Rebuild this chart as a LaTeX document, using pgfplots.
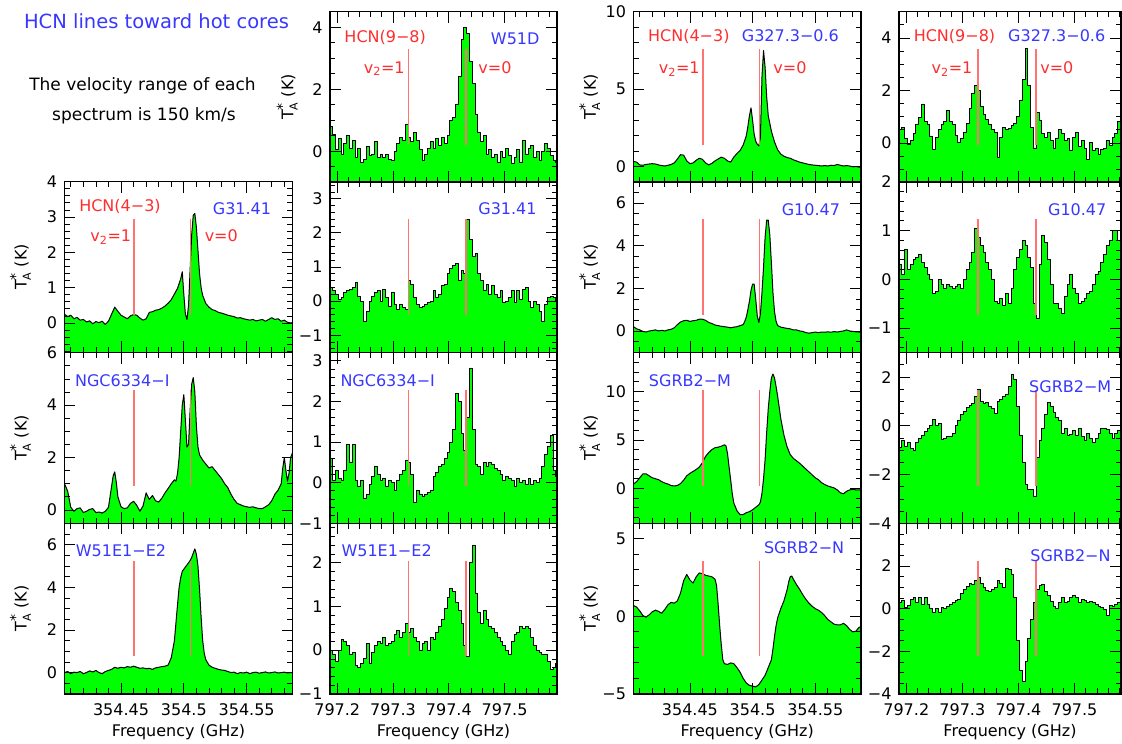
\documentclass[border=0pt]{standalone}
\usepackage{fontspec}
\setmainfont{DejaVu Sans}
\usepackage{pgfplots}
\pgfplotsset{compat=1.18}
\usepackage{pgfplotstable}
\usepgfplotslibrary{fillbetween}
\definecolor{specgreen}{RGB}{0,255,0}
\definecolor{lblue}{RGB}{55,55,255}
\definecolor{lred}{RGB}{255,45,45}
\definecolor{linered}{RGB}{255,115,115}
\newcommand\tf{\fontsize{16}{18}\selectfont}
\newcommand\TA{T$_{\mbox{\fontsize{11}{11}\selectfont A}}^{\mbox{\fontsize{14}{14}\selectfont *}}$ (K)}
\newcommand\vtwo{v\textsubscript{2}=1}

% ---------- HCN(4-3), 354 GHz ----------
\pgfplotstableread{
f T
354.4050 0.25
354.4075 0.18
354.4100 0.22
354.4125 0.12
354.4150 0.16
354.4175 0.08
354.4200 0.10
354.4225 0.03
354.4250 0.06
354.4275 -0.02
354.4300 0.04
354.4325 0.01
354.4350 0.05
354.4375 -0.04
354.4400 0.05
354.4425 0.25
354.4450 0.45
354.4475 0.33
354.4500 0.22
354.4525 0.17
354.4550 0.12
354.4575 0.20
354.4600 0.24
354.4625 0.22
354.4650 0.14
354.4675 0.08
354.4700 0.12
354.4725 0.30
354.4750 0.32
354.4775 0.36
354.4800 0.38
354.4825 0.42
354.4850 0.48
354.4875 0.56
354.4900 0.66
354.4925 0.82
354.4950 0.98
354.4975 1.25
354.49875 1.45
354.5000 0.8
354.50125 0.25
354.5025 0.1
354.50375 0.5
354.5050 1.5
354.50625 2.5
354.5075 3.05
354.50875 3.1
354.5100 2.7
354.51125 2.05
354.5125 1.4
354.51375 1.0
354.5150 0.78
354.5175 0.55
354.5200 0.45
354.5225 0.38
354.5250 0.35
354.5275 0.3
354.5300 0.28
354.5325 0.25
354.5350 0.22
354.5375 0.2
354.5400 0.18
354.5425 0.14
354.5450 0.15
354.5475 0.12
354.5500 0.1
354.5525 0.08
354.5550 0.1
354.5575 0.06
354.5600 0.08
354.5625 0.1
354.5650 0.05
354.5675 0.1
354.5700 0.15
354.5725 0.1
354.5750 0.12
354.5775 0.05
354.5800 0.08
354.5825 0.02
354.5850 0.0
354.5875 0.02
}\cAb
\pgfplotstableread{
f T
354.4050 1.0
354.4075 0.72
354.4100 0.1
354.4125 -0.05
354.4150 0.05
354.4175 0.08
354.4200 -0.1
354.4225 -0.05
354.4250 0.02
354.4275 0.05
354.4300 -0.1
354.4325 -0.08
354.4350 -0.12
354.4375 -0.05
354.4400 0.1
354.44125 0.5
354.4425 0.9
354.44375 1.3
354.4450 1.45
354.44625 1.05
354.4475 0.5
354.4500 0.12
354.4525 0.05
354.4550 0.08
354.4575 0.25
354.4600 0.33
354.4625 0.18
354.4650 -0.05
354.4675 0.15
354.4700 0.65
354.4725 0.4
354.4750 0.55
354.4775 0.35
354.4800 0.3
354.4825 0.45
354.4850 0.65
354.4875 0.82
354.4900 1.0
354.4925 1.15
354.49375 1.1
354.4950 1.4
354.49625 2.0
354.4975 3.0
354.49875 4.0
354.5000 4.4
354.50125 3.4
354.5025 2.4
354.50375 2.5
354.5050 3.8
354.50625 4.8
354.5075 5.05
354.50875 4.5
354.5100 3.2
354.51125 2.4
354.5125 2.1
354.5150 1.9
354.5175 1.75
354.5200 1.6
354.5225 1.65
354.5250 1.5
354.5275 1.35
354.5300 1.2
354.5325 1.0
354.5350 0.85
354.5375 0.6
354.5400 0.4
354.5425 0.25
354.5450 0.2
354.5475 0.15
354.5500 0.12
354.5525 0.1
354.5550 0.12
354.5575 0.08
354.5600 0.05
354.5625 0.05
354.5650 0.12
354.5675 0.2
354.5700 0.35
354.5725 0.6
354.5750 0.75
354.5775 1.0
354.57875 1.6
354.5800 2.0
354.58125 1.5
354.5825 1.1
354.58375 1.4
354.5850 2.0
354.5875 2.3
}\cAc
\pgfplotstableread{
f T
354.4050 0.0
354.4075 0.05
354.4100 -0.05
354.4125 0.02
354.4150 0.0
354.4175 0.05
354.4200 -0.05
354.4225 0.0
354.4250 0.08
354.4275 0.03
354.4300 0.1
354.4325 0.0
354.4350 -0.05
354.4375 0.05
354.4400 0.1
354.4425 0.15
354.4450 0.25
354.4475 0.2
354.4500 0.25
354.4525 0.22
354.4550 0.28
354.4575 0.25
354.4600 0.3
354.4625 0.25
354.4650 0.2
354.4675 0.22
354.4700 0.18
354.4725 0.2
354.4750 0.15
354.4775 0.22
354.4800 0.25
354.4825 0.28
354.4850 0.3
354.4875 0.35
354.4900 0.7
354.4925 1.5
354.4950 3.2
354.49625 4.0
354.4975 4.45
354.49875 4.75
354.5000 4.85
354.50125 4.95
354.5025 5.05
354.50375 5.15
354.5050 5.25
354.50625 5.4
354.5075 5.6
354.50875 5.8
354.5100 5.55
354.51125 5.0
354.5125 3.9
354.51375 2.6
354.5150 1.5
354.51625 0.9
354.5175 0.6
354.5200 0.35
354.5225 0.25
354.5250 0.2
354.5275 0.15
354.5300 0.12
354.5325 0.1
354.5350 0.05
354.5375 0.0
354.5400 0.02
354.5425 -0.05
354.5450 0.0
354.5475 -0.02
354.5500 0.02
354.5525 -0.05
354.5550 0.0
354.5575 0.02
354.5600 -0.03
354.5625 0.0
354.5650 0.03
354.5675 -0.02
354.5700 0.0
354.5725 0.03
354.5750 -0.02
354.5775 0.0
354.5800 0.02
354.5825 -0.02
354.5850 0.0
354.5875 0.0
}\cAd
\pgfplotstableread{
f T
354.4050 0.35
354.4075 0.3
354.4100 0.12
354.4125 0.1
354.4150 0.15
354.4175 0.18
354.4200 0.2
354.4225 0.18
354.4250 0.12
354.4275 0.08
354.4300 0.05
354.4325 0.1
354.4350 0.15
354.4375 0.25
354.4400 0.5
354.4425 0.78
354.4450 0.75
354.4475 0.38
354.4500 0.2
354.4525 0.25
354.4550 0.42
354.4575 0.55
354.4600 0.48
354.4625 0.25
354.4650 0.12
354.4675 0.22
354.4700 0.38
354.4725 0.5
354.4750 0.62
354.4775 0.55
354.4800 0.38
354.4825 0.3
354.4850 0.62
354.4875 0.85
354.4900 1.05
354.4925 1.4
354.4950 2.0
354.49625 2.6
354.4975 3.3
354.49875 3.8
354.5000 3.0
354.50125 2.1
354.5025 1.65
354.50375 1.45
354.5050 1.35
354.50625 1.9
354.5075 5.8
354.50875 7.5
354.5100 6.4
354.51125 4.5
354.5125 3.3
354.5150 2.3
354.5175 1.6
354.5200 1.1
354.5225 0.82
354.5250 0.68
354.5275 0.6
354.5300 0.55
354.5325 0.45
354.5350 0.38
354.5375 0.3
354.5400 0.25
354.5425 0.2
354.5450 0.15
354.5475 0.12
354.5500 0.1
354.5525 0.08
354.5550 0.05
354.5575 0.08
354.5600 0.05
354.5625 0.1
354.5650 0.08
354.5675 0.15
354.5700 0.1
354.5725 0.05
354.5750 0.08
354.5775 0.05
354.5800 0.0
354.5825 0.02
354.5850 -0.02
354.5875 0.0
}\cCa
\pgfplotstableread{
f T
354.4050 0.2
354.4075 0.1
354.4100 0.05
354.4125 -0.02
354.4150 -0.05
354.4175 0.0
354.4200 0.02
354.4225 0.05
354.4250 0.0
354.4275 0.03
354.4300 0.0
354.4325 0.05
354.4350 0.08
354.4375 0.15
354.4400 0.3
354.4425 0.42
354.4450 0.48
354.4475 0.5
354.4500 0.45
354.4525 0.48
354.4550 0.5
354.4575 0.55
354.4600 0.55
354.4625 0.5
354.4650 0.4
354.4675 0.35
354.4700 0.28
354.4725 0.25
354.4750 0.22
354.4775 0.2
354.4800 0.18
354.4825 0.15
354.4850 0.18
354.4875 0.2
354.4900 0.25
354.4925 0.3
354.49375 0.45
354.4950 0.65
354.49625 1.0
354.4975 1.4
354.49875 1.9
354.5000 2.2
354.50125 2.2
354.5025 1.5
354.50375 0.7
354.5050 0.4
354.50625 0.8
354.5075 1.8
354.50875 3.0
354.5100 4.4
354.51125 5.2
354.5125 5.2
354.51375 4.5
354.5150 3.2
354.51625 1.8
354.5175 0.9
354.51875 0.45
354.5200 0.25
354.5225 0.18
354.5250 0.15
354.5275 0.12
354.5300 0.1
354.5325 0.05
354.5350 0.05
354.5375 0.0
354.5400 -0.02
354.5425 -0.08
354.5450 -0.1
354.5475 -0.08
354.5500 -0.05
354.5525 -0.08
354.5550 -0.05
354.5575 -0.06
354.5600 -0.04
354.5625 -0.06
354.5650 -0.03
354.5675 -0.05
354.5700 -0.02
354.5725 0.0
354.5750 0.05
354.5775 0.0
354.5800 -0.02
354.5825 -0.04
354.5850 -0.05
354.5875 -0.05
}\cCb
\pgfplotstableread{
f T
354.4050 0.45
354.4075 0.7
354.4100 1.1
354.4125 1.5
354.4150 1.5
354.4175 1.3
354.4200 1.1
354.4225 1.0
354.4250 0.9
354.4275 0.7
354.4300 0.55
354.4325 0.45
354.4350 0.3
354.4375 0.25
354.4400 0.3
354.4425 0.5
354.4450 0.85
354.4475 1.3
354.4500 1.55
354.4525 1.75
354.4550 1.95
354.4575 2.2
354.4600 2.65
354.4625 3.3
354.4650 3.7
354.4675 4.0
354.4700 4.2
354.4725 4.25
354.4750 4.35
354.4775 4.5
354.47875 4.4
354.4800 3.6
354.48125 2.2
354.4825 0.9
354.48375 -0.5
354.4850 -1.5
354.4875 -2.3
354.4900 -2.7
354.4925 -2.7
354.4950 -2.5
354.4975 -2.4
354.5000 -2.2
354.5025 -1.95
354.5050 -1.7
354.50625 -1.4
354.5075 -0.5
354.50875 1.0
354.5100 3.0
354.51125 5.8
354.5125 8.2
354.51375 10.0
354.5150 11.4
354.51625 11.8
354.5175 11.4
354.51875 10.5
354.5200 9.5
354.5225 7.2
354.5250 5.5
354.5275 4.3
354.5300 3.5
354.5325 3.1
354.5350 2.85
354.5375 2.6
354.5400 2.3
354.5425 2.0
354.5450 1.7
354.5475 1.4
354.5500 1.1
354.5525 0.9
354.5550 0.6
354.5575 0.4
354.5600 0.25
354.5625 0.15
354.5650 0.05
354.5675 -0.15
354.5700 -0.45
354.5725 -0.55
354.5750 -0.3
354.5775 -0.15
354.5800 -0.1
354.5825 -0.15
354.5850 -0.15
354.5875 -0.15
}\cCc
\pgfplotstableread{
f T
354.4050 0.7
354.4075 0.6
354.4100 0.35
354.4125 0.05
354.4150 -0.05
354.4175 0.1
354.4200 0.3
354.4225 0.4
354.4250 0.32
354.4275 0.2
354.4300 0.45
354.4325 0.75
354.4350 0.9
354.4375 0.85
354.4400 1.0
354.4425 1.5
354.4450 2.3
354.4475 2.7
354.4500 2.35
354.4525 2.15
354.4550 2.55
354.4575 2.8
354.4600 2.75
354.4625 2.65
354.4650 2.6
354.4675 2.55
354.4700 2.4
354.47125 2.0
354.4725 0.8
354.47375 -0.6
354.4750 -1.8
354.47625 -2.8
354.4775 -3.05
354.4800 -3.1
354.4825 -3.0
354.4850 -3.05
354.4875 -3.3
354.4900 -3.6
354.4925 -4.0
354.4950 -4.3
354.4975 -4.45
354.5000 -4.5
354.5025 -4.55
354.5050 -4.4
354.5075 -4.1
354.5100 -3.8
354.5125 -3.3
354.5150 -2.8
354.51625 -2.1
354.5175 -1.3
354.51875 -0.6
354.5200 -0.1
354.5225 0.5
354.5250 1.0
354.5275 1.7
354.52875 2.2
354.5300 2.55
354.53125 2.6
354.5325 2.4
354.5350 2.05
354.5375 1.75
354.5400 1.4
354.5425 1.1
354.5450 0.85
354.5475 0.65
354.5500 0.5
354.5525 0.4
354.5550 0.25
354.5575 0.05
354.5600 -0.2
354.5625 -0.35
354.5650 -0.5
354.5675 -0.55
354.5700 -0.55
354.5725 -0.45
354.5750 -0.6
354.5775 -0.85
354.5800 -1.0
354.5825 -0.95
354.5850 -0.7
354.5875 -0.7
}\cCd

% ---------- HCN(9-8), 797 GHz ----------
\pgfplotstableread{
f T
797.187 0.8
797.192 0.55
797.197 0.05
797.202 0.4
797.207 -0.1
797.212 0.25
797.217 0.5
797.222 0.1
797.227 0.35
797.232 -0.2
797.237 0.1
797.242 -0.35
797.247 -0.25
797.252 0.15
797.257 -0.15
797.262 -0.1
797.267 0.3
797.272 -0.2
797.277 -0.1
797.282 -0.2
797.287 -0.1
797.292 -0.25
797.297 -0.3
797.302 0.0
797.307 0.25
797.312 0.45
797.317 0.35
797.322 0.85
797.327 0.45
797.332 0.3
797.337 0.6
797.342 0.35
797.347 0.05
797.352 -0.3
797.357 -0.1
797.362 0.1
797.367 0.3
797.372 0.1
797.377 0.4
797.382 0.2
797.387 0.45
797.392 0.25
797.397 0.5
797.402 1.0
797.407 1.1
797.412 1.5
797.417 2.4
797.422 3.6
797.427 4.0
797.432 3.8
797.437 2.9
797.442 2.2
797.447 1.2
797.452 0.6
797.457 0.3
797.462 0.5
797.467 -0.1
797.472 0.05
797.477 -0.2
797.482 -0.1
797.487 -0.35
797.492 0.0
797.497 -0.2
797.502 0.1
797.507 -0.15
797.512 -0.4
797.517 -0.2
797.522 0.05
797.527 -0.35
797.532 0.35
797.537 -0.1
797.542 0.1
797.547 0.2
797.552 -0.2
797.557 0.0
797.562 -0.3
797.567 0.0
797.572 0.25
797.577 0.1
797.582 -0.15
797.587 -0.3
797.592 -0.35
797.597 -0.3
}\cBa
\pgfplotstableread{
f T
797.187 0.4
797.192 0.3
797.197 0.2
797.202 0.05
797.207 0.1
797.212 0.25
797.217 0.3
797.222 0.35
797.227 0.4
797.232 0.55
797.237 0.15
797.242 0.0
797.247 -0.6
797.252 -0.3
797.257 0.0
797.262 0.15
797.267 0.25
797.272 0.3
797.277 0.0
797.282 0.35
797.287 0.1
797.292 -0.15
797.297 0.25
797.302 -0.1
797.307 -0.25
797.312 -0.1
797.317 -0.2
797.322 -0.25
797.327 0.6
797.332 0.5
797.337 0.1
797.342 -0.1
797.347 -0.2
797.352 -0.15
797.357 -0.1
797.362 -0.05
797.367 0.0
797.372 0.3
797.377 0.1
797.382 0.2
797.387 0.45
797.392 0.5
797.397 0.8
797.402 0.95
797.407 1.05
797.412 1.1
797.417 0.6
797.422 0.9
797.427 0.8
797.432 2.4
797.437 1.8
797.442 1.3
797.447 1.4
797.452 0.8
797.457 0.6
797.462 0.3
797.467 0.5
797.472 0.2
797.477 0.45
797.482 0.2
797.487 0.1
797.492 0.3
797.497 -0.05
797.502 0.0
797.507 0.1
797.512 0.3
797.517 -0.05
797.522 0.3
797.527 0.05
797.532 0.35
797.537 0.4
797.542 0.0
797.547 -0.2
797.552 0.0
797.557 -0.1
797.562 -0.3
797.567 -0.6
797.572 -0.1
797.577 0.1
797.582 0.15
797.587 0.1
797.592 0.0
797.597 0.0
}\cBb
\pgfplotstableread{
f T
797.187 0.6
797.192 0.05
797.197 0.3
797.202 0.1
797.207 0.05
797.212 0.3
797.217 0.95
797.222 0.5
797.227 0.95
797.232 0.05
797.237 -0.1
797.242 0.05
797.247 -0.4
797.252 -0.3
797.257 -0.05
797.262 0.15
797.267 0.4
797.272 0.2
797.277 0.05
797.282 0.1
797.287 -0.1
797.292 0.05
797.297 0.0
797.302 -0.2
797.307 0.05
797.312 0.2
797.317 0.3
797.322 0.55
797.327 0.5
797.332 0.2
797.337 -0.5
797.342 -0.2
797.347 -0.3
797.352 -0.35
797.357 -0.3
797.362 -0.25
797.367 -0.2
797.372 0.15
797.377 0.25
797.382 0.4
797.387 0.45
797.392 0.6
797.397 0.75
797.402 1.0
797.407 1.3
797.412 2.2
797.417 2.0
797.422 1.2
797.427 0.8
797.432 1.6
797.437 2.8
797.442 1.3
797.447 0.45
797.452 0.4
797.457 0.2
797.462 0.5
797.467 0.4
797.472 0.5
797.477 0.45
797.482 0.35
797.487 0.3
797.492 0.2
797.497 0.05
797.502 0.15
797.507 0.1
797.512 0.05
797.517 -0.1
797.522 0.1
797.527 0.0
797.532 0.05
797.537 -0.05
797.542 0.1
797.547 -0.05
797.552 0.05
797.557 0.0
797.562 0.1
797.567 0.4
797.572 0.7
797.577 0.9
797.582 1.15
797.587 0.3
797.592 0.15
797.597 0.15
}\cBc
\pgfplotstableread{
f T
797.187 0.0
797.192 -0.1
797.197 -0.25
797.202 0.0
797.207 0.25
797.212 0.2
797.217 0.1
797.222 -0.1
797.227 -0.05
797.232 -0.35
797.237 -0.4
797.242 -0.3
797.247 -0.2
797.252 0.15
797.257 -0.3
797.262 -0.05
797.267 0.1
797.272 0.2
797.277 0.15
797.282 0.3
797.287 0.1
797.292 0.15
797.297 0.2
797.302 0.35
797.307 0.45
797.312 0.3
797.317 0.4
797.322 0.6
797.327 0.4
797.332 0.5
797.337 0.3
797.342 0.2
797.347 0.0
797.352 0.15
797.357 0.2
797.362 0.0
797.367 0.3
797.372 0.25
797.377 0.4
797.382 0.55
797.387 0.7
797.392 0.95
797.397 1.2
797.402 1.4
797.407 1.35
797.412 1.1
797.417 0.9
797.422 0.6
797.427 0.1
797.432 -0.15
797.437 2.0
797.442 2.4
797.447 1.3
797.452 0.85
797.457 0.6
797.462 0.9
797.467 0.7
797.472 0.55
797.477 0.5
797.482 0.4
797.487 0.3
797.492 0.2
797.497 0.1
797.502 0.0
797.507 -0.1
797.512 0.2
797.517 0.35
797.522 0.4
797.527 0.55
797.532 0.5
797.537 0.55
797.542 0.5
797.547 0.3
797.552 0.1
797.557 0.0
797.562 -0.05
797.567 -0.1
797.572 -0.1
797.577 -0.25
797.582 -0.45
797.587 -0.4
797.592 -0.3
797.597 -0.3
}\cBd
\pgfplotstableread{
f T
797.187 0.5
797.192 0.6
797.197 0.15
797.202 -0.05
797.207 0.1
797.212 0.35
797.217 0.7
797.222 0.95
797.227 1.45
797.232 0.8
797.237 0.7
797.242 0.25
797.247 -0.25
797.252 0.2
797.257 0.5
797.262 0.7
797.267 0.8
797.272 1.25
797.277 0.8
797.282 0.7
797.287 0.3
797.292 0.0
797.297 0.15
797.302 0.4
797.307 0.75
797.312 1.3
797.317 1.9
797.322 2.2
797.327 2.0
797.332 1.4
797.337 1.1
797.342 0.9
797.347 0.7
797.352 0.5
797.357 0.4
797.362 -0.55
797.367 0.2
797.372 0.6
797.377 0.5
797.382 0.55
797.387 0.65
797.392 0.75
797.397 1.0
797.402 1.6
797.407 2.4
797.412 3.6
797.417 2.2
797.422 0.6
797.427 -0.2
797.432 1.15
797.437 0.85
797.442 0.35
797.447 0.2
797.452 0.4
797.457 0.1
797.462 -0.2
797.467 0.15
797.472 0.5
797.477 0.35
797.482 0.1
797.487 0.15
797.492 -0.3
797.497 0.2
797.502 0.4
797.507 -0.15
797.512 0.1
797.517 -0.2
797.522 -0.65
797.527 0.0
797.532 -0.3
797.537 -0.2
797.542 -0.45
797.547 -0.25
797.552 -0.2
797.557 0.1
797.562 -0.1
797.567 0.2
797.572 0.35
797.577 0.8
797.582 1.1
797.587 1.1
}\cDa
\pgfplotstableread{
f T
797.187 0.3
797.192 0.1
797.197 0.6
797.202 0.2
797.207 0.3
797.212 0.4
797.217 0.45
797.222 0.5
797.227 0.35
797.232 0.25
797.237 0.1
797.242 0.0
797.247 -0.3
797.252 -0.25
797.257 0.0
797.262 -0.1
797.267 -0.2
797.272 -0.1
797.277 -0.15
797.282 -0.2
797.287 -0.15
797.292 -0.1
797.297 -0.2
797.302 0.0
797.307 0.2
797.312 0.35
797.317 0.55
797.322 1.05
797.327 0.85
797.332 0.7
797.337 0.55
797.342 0.35
797.347 0.2
797.352 0.0
797.357 -0.45
797.362 -0.5
797.367 -0.4
797.372 -0.55
797.377 -0.3
797.382 -0.5
797.387 -0.2
797.392 0.2
797.397 0.45
797.402 0.6
797.407 0.8
797.412 0.7
797.417 0.45
797.422 0.25
797.427 -0.5
797.432 -0.8
797.437 0.3
797.442 0.9
797.447 0.75
797.452 0.4
797.457 -0.1
797.462 -0.5
797.467 -0.5
797.472 -0.6
797.477 -0.7
797.482 -0.35
797.487 -0.1
797.492 0.1
797.497 -0.2
797.502 -0.3
797.507 -0.5
797.512 -0.45
797.517 -0.4
797.522 -0.3
797.527 -0.25
797.532 -0.1
797.537 0.1
797.542 0.15
797.547 0.35
797.552 0.5
797.557 0.7
797.562 0.8
797.567 1.0
797.572 1.0
797.577 0.8
797.582 0.6
797.587 0.6
}\cDb
\pgfplotstableread{
f T
797.187 -0.9
797.192 -0.6
797.197 -0.85
797.202 -0.7
797.207 -0.95
797.212 -1.0
797.217 -0.7
797.222 -0.5
797.227 -0.4
797.232 -0.25
797.237 -0.1
797.242 0.0
797.247 0.25
797.252 0.0
797.257 0.1
797.262 -0.55
797.267 -0.5
797.272 -0.45
797.277 -0.45
797.282 -0.3
797.287 0.0
797.292 0.2
797.297 0.45
797.302 0.6
797.307 0.75
797.312 0.85
797.317 0.9
797.322 1.2
797.327 1.5
797.332 1.0
797.337 0.9
797.342 0.95
797.347 0.8
797.352 0.7
797.357 0.5
797.362 1.0
797.367 1.1
797.372 1.2
797.377 1.3
797.382 1.6
797.387 2.1
797.392 1.9
797.397 0.8
797.402 -0.4
797.407 -1.5
797.412 -2.4
797.417 -2.6
797.422 -2.6
797.427 -2.9
797.432 -1.3
797.437 -0.6
797.442 -0.1
797.447 0.45
797.452 0.95
797.457 0.8
797.462 0.55
797.467 0.35
797.472 0.2
797.477 -0.3
797.482 -0.1
797.487 -0.4
797.492 -0.35
797.497 -0.2
797.502 -0.4
797.507 -0.1
797.512 -0.45
797.517 -0.6
797.522 -0.3
797.527 -0.5
797.532 -0.7
797.537 -0.5
797.542 -0.3
797.547 -0.1
797.552 -0.1
797.557 -0.15
797.562 -0.3
797.567 -0.5
797.572 -0.3
797.577 -0.2
797.582 0.0
797.587 0.0
}\cDc
\pgfplotstableread{
f T
797.187 0.3
797.192 0.4
797.197 0.05
797.202 0.15
797.207 0.45
797.212 0.5
797.217 0.3
797.222 0.5
797.227 0.2
797.232 0.5
797.237 0.2
797.242 0.0
797.247 -0.2
797.252 0.0
797.257 -0.2
797.262 0.05
797.267 0.0
797.272 0.1
797.277 0.2
797.282 0.3
797.287 0.4
797.292 0.45
797.297 0.7
797.302 0.9
797.307 1.05
797.312 1.2
797.317 1.15
797.322 1.3
797.327 1.45
797.332 1.2
797.337 1.0
797.342 0.85
797.347 0.8
797.352 0.9
797.357 1.0
797.362 1.3
797.367 1.2
797.372 1.0
797.377 1.9
797.382 1.85
797.387 1.6
797.392 0.5
797.397 -1.5
797.402 -2.9
797.407 -3.4
797.412 -2.5
797.417 -1.4
797.422 -0.5
797.427 0.3
797.432 0.9
797.437 1.1
797.442 1.15
797.447 0.8
797.452 0.6
797.457 0.35
797.462 0.1
797.467 0.0
797.472 0.3
797.477 0.5
797.482 0.3
797.487 0.35
797.492 0.5
797.497 0.6
797.502 0.5
797.507 0.3
797.512 0.45
797.517 0.4
797.522 0.3
797.527 0.35
797.532 0.3
797.537 0.2
797.542 0.1
797.547 0.05
797.552 -0.05
797.557 -0.3
797.562 0.15
797.567 0.1
797.572 0.2
797.577 0.3
797.582 0.3
797.587 0.3
}\cDd

\pgfplotsset{
  panel/.style={scale only axis, axis on top, clip=true, height=170.6pt,
    clip bounding box=upper bound,
    tick align=inside, xtick pos=both, ytick pos=both,
    major tick length=11pt, minor tick length=5.5pt,
    every tick/.style={black, line width=0.8pt},
    axis line style={line width=1.2pt},
    tick label style={font=\tf},
    yticklabel style={xshift=-4pt},
    xticklabel style={yshift=-6pt},
    ylabel style={font=\tf, at={(axis description cs:-0.193,0.5)}, anchor=center},
    xlabel style={font=\tf, at={(axis description cs:0.5,0)}, anchor=center, yshift=-38.5pt},
    anchor=north west},
  c354/.style={panel, width=228pt, xmin=354.405, xmax=354.5865,
    xtick={354.45,354.5,354.55}, minor xtick={354.41,354.42,...,354.58}},
  c797/.style={panel, width=227pt, xmin=797.187, xmax=797.594,
    xtick={797.2,797.3,797.4,797.5}, minor xtick={797.2,797.22,...,797.58}},
  nox/.style={xticklabels={}},
  lab354/.style={xticklabels={354.45,354.5,354.55}, xlabel={Frequency (GHz)}},
  lab797/.style={xticklabels={797.2,797.3,797.4,797.5}, xlabel={Frequency (GHz)}},
}

% #1 table, #2 plot style, #3 first x, #4 last x, #5 ymin of the panel
\newcommand\spec[5]{%
  \addplot[draw=none, name path=S, #2] table[x=f,y=T] {#1};
  \path[name path=B] (axis cs:#3,#5) -- (axis cs:#4,#5);
  \addplot[specgreen, draw=none, fill=specgreen] fill between[of=S and B];
  \addplot[black, line width=1pt, line join=round, #2] table[x=f,y=T] {#1};
}
\newcommand\rls[4]{%
  \addplot[linered, line width=1.5pt] coordinates {(#1,#3) (#1,#4)};
  \addplot[linered, line width=1.5pt] coordinates {(#2,#3) (#2,#4)};
}

\begin{document}
\begin{tikzpicture}
\path (0pt,0pt) rectangle (1122pt,-744pt);

% ---------------- column 1 (HCN 4-3) ----------------
\begin{axis}[c354, nox, at={(64.5pt,-181.7pt)}, ymin=-0.83, ymax=4,
  ytick={0,1,2,3,4}, yticklabels={0,1,2,3,4}, minor ytick={-0.8,-0.6,...,3.8}, ylabel={\TA}]
\spec{\cAb}{}{354.405}{354.5875}{-0.83}
\rls{354.4604}{354.5055}{0.233}{2.937}
\end{axis}
\begin{axis}[c354, nox, at={(64.5pt,-352.7pt)}, ymin=-0.51, ymax=6,
  ytick={0,2,4,6}, yticklabels={0,2,4,6}, minor ytick={-0.5,0,...,5.5}, ylabel={\TA}]
\spec{\cAc}{}{354.405}{354.5875}{-0.51}
\rls{354.4604}{354.5055}{0.922}{4.568}
\end{axis}
\begin{axis}[c354, lab354, at={(64.5pt,-523.3pt)}, ymin=-1, ymax=7,
  ytick={0,2,4,6}, yticklabels={0,2,4,6}, minor ytick={-1,-0.5,...,7}, ylabel={\TA}]
\spec{\cAd}{}{354.405}{354.5875}{-1}
\rls{354.4604}{354.5055}{0.76}{5.24}
\end{axis}

% ---------------- column 2 (HCN 9-8) ----------------
\begin{axis}[c797, nox, at={(330pt,-11.7pt)}, ymin=-1, ymax=4.5,
  ytick={0,2,4}, yticklabels={0,2,4}, minor ytick={-1,-0.5,...,4.5}, ylabel={\TA},
  ylabel style={at={(axis description cs:-0.189,0.5)}}]
\spec{\cBa}{const plot}{797.187}{797.597}{-1}
\rls{797.328}{797.431}{0.21}{3.29}
\end{axis}
\begin{axis}[c797, nox, at={(330pt,-181.7pt)}, ymin=-1.5, ymax=3.5,
  ytick={-1,0,1,2,3}, yticklabels={−1,0,1,2,3}, minor ytick={-1.4,-1.2,...,3.4}]
\spec{\cBb}{const plot}{797.187}{797.597}{-1.5}
\rls{797.328}{797.431}{-0.4}{2.4}
\end{axis}
\begin{axis}[c797, nox, at={(330pt,-352.7pt)}, ymin=-1, ymax=3.2,
  ytick={-1,0,1,2,3}, yticklabels={−1,0,1,2,3}, minor ytick={-1,-0.8,...,3.2}]
\spec{\cBc}{const plot}{797.187}{797.597}{-1}
\rls{797.328}{797.431}{-0.076}{2.276}
\end{axis}
\begin{axis}[c797, lab797, at={(330pt,-523.3pt)}, ymin=-1, ymax=2.9,
  ytick={-1,0,1,2}, yticklabels={−1,0,1,2}, minor ytick={-1,-0.8,...,2.8}]
\spec{\cBd}{const plot}{797.187}{797.597}{-1}
\rls{797.328}{797.431}{-0.142}{2.042}
\end{axis}

% ---------------- column 3 (HCN 4-3) ----------------
\begin{axis}[c354, nox, width=227.5pt, at={(633.5pt,-11.7pt)}, ymin=-1, ymax=10,
  ytick={0,5,10}, yticklabels={0,5,10}, minor ytick={-1,0,...,10}, ylabel={\TA}]
\spec{\cCa}{}{354.405}{354.5875}{-1}
\rls{354.4604}{354.5055}{1.42}{7.58}
\end{axis}
\begin{axis}[c354, nox, width=227.5pt, at={(633.5pt,-181.7pt)}, ymin=-1, ymax=7,
  ytick={0,2,4,6}, yticklabels={0,2,4,6}, minor ytick={-1,-0.5,...,7}, ylabel={\TA}]
\spec{\cCb}{}{354.405}{354.5875}{-1}
\rls{354.4604}{354.5055}{0.76}{5.24}
\end{axis}
\begin{axis}[c354, nox, width=227.5pt, at={(633.5pt,-352.7pt)}, ymin=-3.6, ymax=14,
  ytick={0,5,10}, yticklabels={0,5,10}, minor ytick={-3,-2,...,14}, ylabel={\TA}]
\spec{\cCc}{}{354.405}{354.5875}{-3.6}
\rls{354.4604}{354.5055}{0.272}{10.128}
\end{axis}
\begin{axis}[c354, lab354, width=227.5pt, at={(633.5pt,-523.3pt)}, ymin=-5, ymax=6,
  ytick={-5,0,5}, yticklabels={−5,0,5}, minor ytick={-5,-4,...,6}, ylabel={\TA}]
\spec{\cCd}{}{354.405}{354.5875}{-5}
\rls{354.4604}{354.5055}{-2.58}{3.58}
\end{axis}

% ---------------- column 4 (HCN 9-8) ----------------
\begin{axis}[c797, nox, width=222pt, xmax=797.583, at={(899pt,-11.7pt)}, ymin=-1.5, ymax=5,
  ytick={0,2,4}, yticklabels={0,2,4}, minor ytick={-1.5,-1,...,5}]
\spec{\cDa}{const plot}{797.187}{797.587}{-1.5}
\rls{797.328}{797.431}{-0.07}{3.57}
\end{axis}
\begin{axis}[c797, nox, width=222pt, xmax=797.583, at={(899pt,-181.7pt)}, ymin=-1.5, ymax=2,
  ytick={-1,0,1,2}, yticklabels={−1,0,1,2}, minor ytick={-1.4,-1.2,...,2}]
\spec{\cDb}{const plot}{797.187}{797.587}{-1.5}
\rls{797.328}{797.431}{-0.73}{1.23}
\end{axis}
\begin{axis}[c797, nox, width=222pt, xmax=797.583, at={(899pt,-352.7pt)}, ymin=-4, ymax=3,
  ytick={-4,-2,0,2}, yticklabels={−4,−2,0,2}, minor ytick={-4,-3.5,...,3}]
\spec{\cDc}{const plot}{797.187}{797.587}{-4}
\rls{797.328}{797.431}{-2.46}{1.46}
\end{axis}
\begin{axis}[c797, lab797, width=222pt, xmax=797.583, at={(899pt,-523.3pt)}, ymin=-4, ymax=4,
  ytick={-4,-2,0,2}, yticklabels={−4,−2,0,2}, minor ytick={-4,-3.5,...,4}]
\spec{\cDd}{const plot}{797.187}{797.587}{-4}
\rls{797.328}{797.431}{-2.24}{2.24}
\end{axis}

% ---------------- annotations ----------------
\begin{scope}[every node/.style={inner sep=0pt, anchor=base, font=\tf}]
\node[lblue, font=\fontsize{19.5}{22}\selectfont] at (156.5pt,-28.3pt) {HCN lines toward hot cores};
\node[font=\fontsize{17}{20}\selectfont] at (142.5pt,-90.7pt) {The velocity range of each};
\node[font=\fontsize{17}{20}\selectfont] at (144pt,-120.7pt) {spectrum is 150 km/s};
% C1R2
\node[lred] at (120pt,-211.7pt) {HCN(4−3)};
\node[lblue] at (242pt,-214.3pt) {G31.41};
\node[lred] at (110.8pt,-241.7pt) {\vtwo};
\node[lred] at (221.3pt,-241.7pt) {v=0};
% C2R1
\node[lred] at (385.2pt,-42.2pt) {HCN(9−8)};
\node[lblue] at (515.2pt,-44.5pt) {W51D};
\node[lred] at (384.3pt,-73.3pt) {\vtwo};
\node[lred] at (495pt,-73.3pt) {v=0};
% C2R2
\node[lblue] at (507.5pt,-214.3pt) {G31.41};
% C3R1
\node[lred] at (688.8pt,-41.7pt) {HCN(4−3)};
\node[lblue] at (790.4pt,-41.7pt) {G327.3−0.6};
\node[lred] at (679.3pt,-73.5pt) {\vtwo};
\node[lred] at (790pt,-73.5pt) {v=0};
% C3R2
\node[lblue] at (810.9pt,-215pt) {G10.47};
% C4R1
\node[lred] at (954.5pt,-41.7pt) {HCN(9−8)};
\node[lblue] at (1056.7pt,-41.7pt) {G327.3−0.6};
\node[lred] at (952pt,-73.5pt) {\vtwo};
\node[lred] at (1056.8pt,-73.5pt) {v=0};
% C4R2
\node[lblue] at (1077.2pt,-215pt) {G10.47};
% row 3 / row 4
\node[lblue] at (122.3pt,-386pt) {NGC6334−I};
\node[lblue] at (387.7pt,-386pt) {NGC6334−I};
\node[lblue] at (121pt,-556.7pt) {W51E1−E2};
\node[lblue] at (386.6pt,-556.7pt) {W51E1−E2};
\node[lblue] at (690pt,-386.5pt) {SGRB2−M};
\node[lblue] at (804.1pt,-553.3pt) {SGRB2−N};
\node[lblue] at (1070.2pt,-392.7pt) {SGRB2−M};
\node[lblue] at (1070.5pt,-561pt) {SGRB2−N};
\end{scope}
\end{tikzpicture}
\end{document}
